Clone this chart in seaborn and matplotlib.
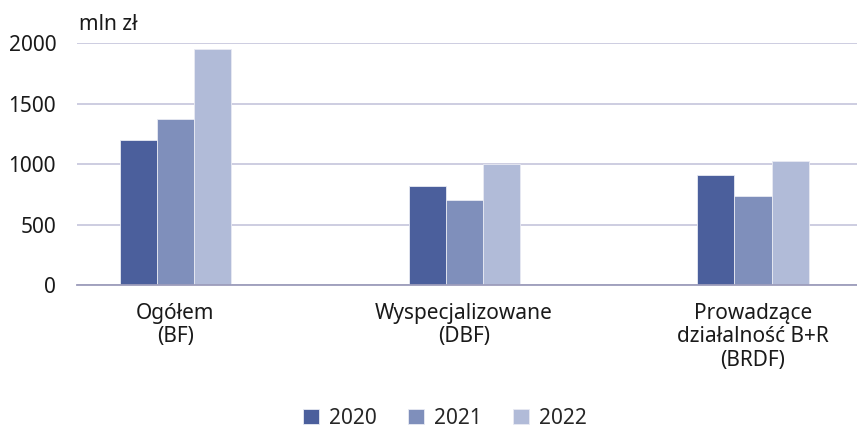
import matplotlib
matplotlib.use("Agg")
import matplotlib.pyplot as plt
import seaborn as sns
import pandas as pd

categories = ["Ogółem\n(BF)", "Wyspecjalizowane\n(DBF)", "Prowadzące\ndziałalność B+R\n(BRDF)"]
years = ["2020", "2021", "2022"]
v2020 = [1200, 820, 910]
v2021 = [1370, 700, 740]
v2022 = [1950, 1005, 1030]
colors = ["#4b5f9c", "#7f8fbb", "#b1bbd8"]

rows = []
for y, vals in zip(years, [v2020, v2021, v2022]):
    for c, v in zip(categories, vals):
        rows.append({"cat": c, "year": y, "val": v})
df = pd.DataFrame(rows)

sns.set_style("white")
plt.rcParams["font.family"] = ["Noto Sans", "DejaVu Sans"]

FS = 15
fig = plt.figure(figsize=(8.57, 4.29), dpi=100)
ax = fig.add_axes([77/857, 1-285/429, 1-77/857, (285-43.3)/429])

sns.barplot(data=df, x="cat", y="val", hue="year", palette=colors, width=0.385,
            saturation=1, ax=ax, legend=True, edgecolor="#e8eaf3", linewidth=0.6)

ax.set_xlim(-0.34, 2.36)
ax.set_ylim(0, 2000)
ax.set_yticks([0, 500, 1000, 1500, 2000])
ax.set_xlabel("")
ax.set_ylabel("")
ax.grid(axis="y", color="#c9c9de", linewidth=1.3)
ax.set_axisbelow(True)
for s in ["top", "right", "left"]:
    ax.spines[s].set_visible(False)
ax.spines["bottom"].set_color("#9d9dbb")
ax.spines["bottom"].set_linewidth(1.3)
ax.tick_params(axis="y", length=0, pad=15, labelsize=FS, colors="#1a1a1a")
ax.tick_params(axis="x", length=0, pad=13, labelsize=FS, colors="#1a1a1a")
for lab in ax.get_xticklabels():
    lab.set_multialignment("center")
    lab.set_linespacing(1.15)

handles, labels = ax.get_legend_handles_labels()
ax.get_legend().remove()
fig.legend(handles, labels, loc="center", bbox_to_anchor=(445/857, 1-418/429), ncol=3,
           frameon=False, fontsize=FS, handlelength=0.75, handleheight=0.75,
           columnspacing=1.5, handletextpad=0.5)

fig.text(79/857, 1-25/429, "mln zł", fontsize=FS, va="center", ha="left", color="#1a1a1a")

fig.savefig("out.png", dpi=100)
